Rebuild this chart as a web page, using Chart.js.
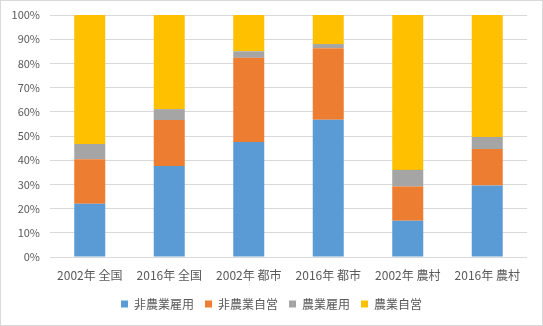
<!DOCTYPE html>
<html>
<head>
<meta charset="utf-8">
<script src="https://cdn.jsdelivr.net/npm/chart.js@4/dist/chart.umd.min.js"></script>
<style>
  html, body { margin: 0; padding: 0; background: #fff; }
  #wrap { width: 543px; height: 326px; box-sizing: border-box; border: 1px solid #d9d9d9; position: relative; }
  #chart { display: block; }
</style>
</head>
<body>
<div id="wrap"><canvas id="chart" width="541" height="324"></canvas></div>
<script>
// Employment composition by year and region (share, %)
const categories = ['2002年 全国', '2016年 全国', '2002年 都市', '2016年 都市', '2002年 農村', '2016年 農村'];
const seriesNames = ['非農業雇用', '非農業自営', '農業雇用', '農業自営'];
const nonFarmWage = [22.0, 37.6, 47.5, 56.7, 15.0, 29.5];
const nonFarmSelf = [18.4, 19.0, 34.8, 29.6, 14.1, 15.1];
const farmWage    = [6.3, 4.5, 2.7, 1.7, 6.9, 5.0];
const farmSelf    = [53.3, 38.9, 15.0, 12.0, 64.0, 50.4];
const yTicks = [0, 10, 20, 30, 40, 50, 60, 70, 80, 90, 100];

const colors = ['#5B9BD5', '#ED7D31', '#A5A5A5', '#FFC000'];
const values = [nonFarmWage, nonFarmSelf, farmWage, farmSelf];

const font = "'Noto Sans CJK JP', 'Noto Sans', sans-serif";

// Center the legend on the whole canvas rather than the padded layout box
const centerLegend = {
  id: 'centerLegend',
  afterLayout(chart) {
    const lg = chart.legend;
    if (!lg) return;
    const shift = (chart.width - (lg.left + lg.right)) / 2;
    lg.left += shift;
    lg.right += shift;
  }
};

new Chart(document.getElementById('chart'), {
  type: 'bar',
  data: {
    labels: categories,
    datasets: seriesNames.map((name, i) => ({
      label: name,
      data: values[i],
      backgroundColor: colors[i],
      borderWidth: 0,
      barPercentage: 0.39,
      categoryPercentage: 1
    }))
  },
  plugins: [centerLegend],
  options: {
    responsive: false,
    animation: false,
    layout: { padding: { left: 0, right: 15, top: 14, bottom: 5 } },
    plugins: {
      legend: {
        position: 'bottom',
        labels: {
          usePointStyle: true,
          pointStyle: 'rect',
          boxWidth: 7,
          boxHeight: 7,
          padding: 11,
          color: '#595959',
          font: { family: font, size: 12 }
        }
      },
      tooltip: { enabled: false }
    },
    scales: {
      x: {
        stacked: true,
        grid: { display: false },
        border: { display: false },
        ticks: { color: '#595959', font: { family: font, size: 12 }, maxRotation: 0, padding: 3 },
        afterFit: s => { s.height = 30; }
      },
      y: {
        stacked: true,
        min: 0,
        max: 100,
        afterBuildTicks: s => { s.ticks = yTicks.map(v => ({ value: v })); },
        ticks: {
          color: '#595959',
          font: { family: font, size: 11 },
          padding: 10,
          callback: v => v + '%'
        },
        grid: { color: '#d9d9d9', drawTicks: false },
        border: { display: false },
        afterFit: s => { s.width = 49; s.paddingTop = 0; s.paddingBottom = 0; }
      }
    }
  }
});
</script>
</body>
</html>
